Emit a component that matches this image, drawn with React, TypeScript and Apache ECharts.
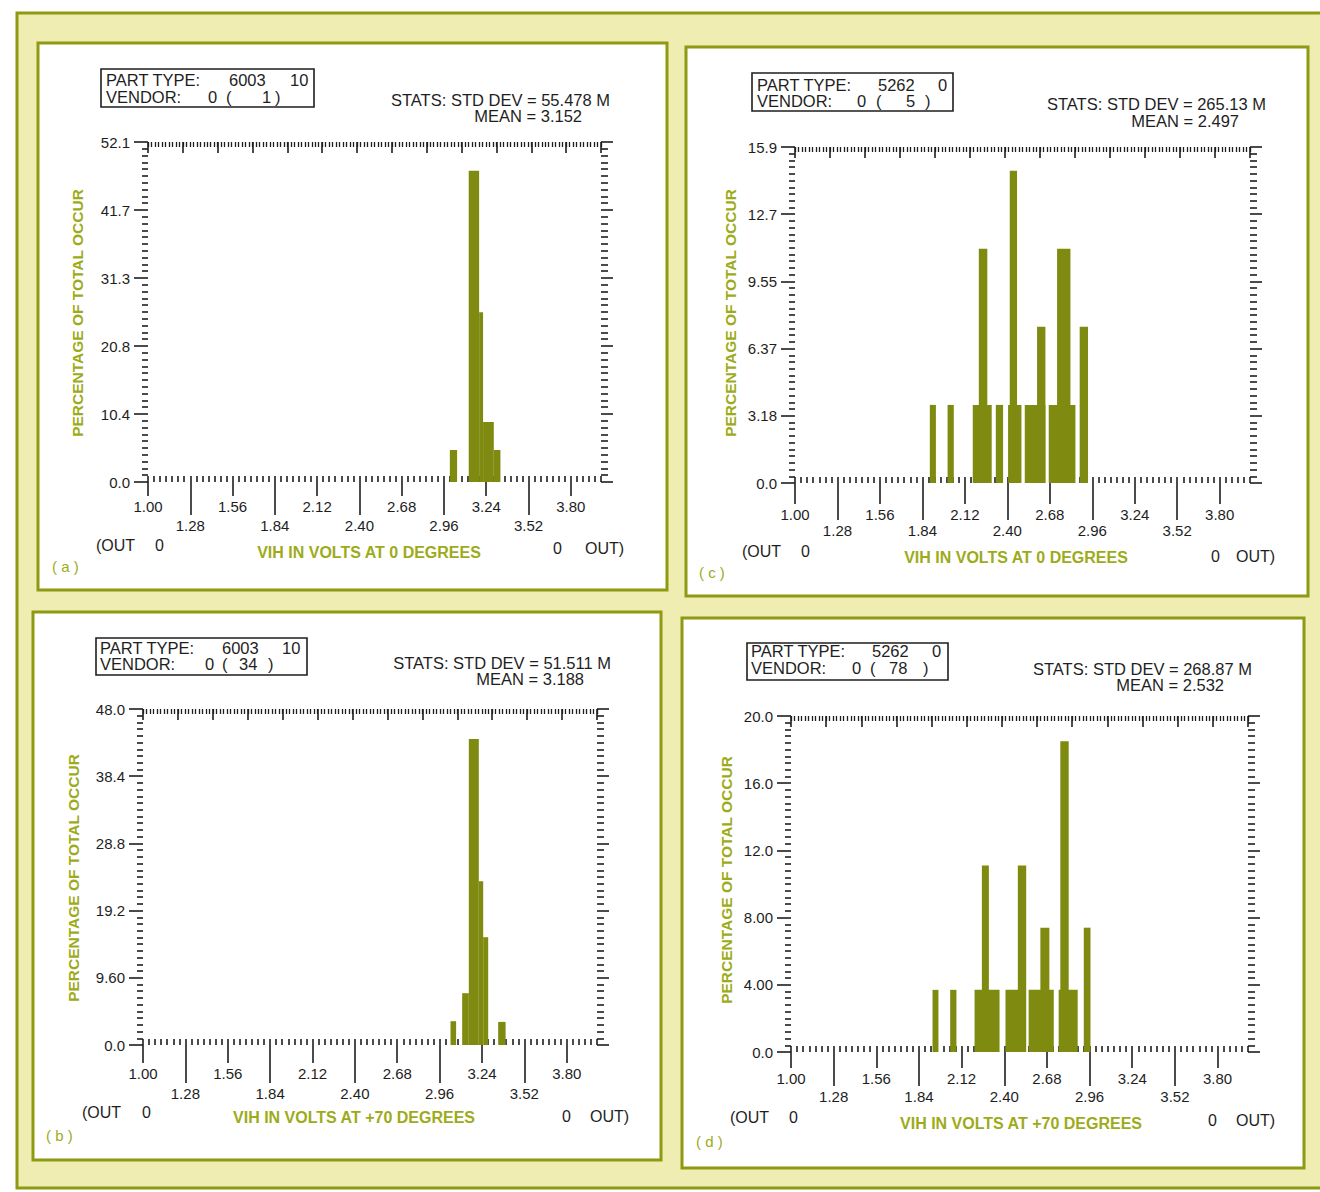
import React, { useEffect, useRef } from "react";
import * as echarts from "echarts";

// ---------- data ----------
const xTickLabels = ["1.00", "1.28", "1.56", "1.84", "2.12", "2.40", "2.68", "2.96", "3.24", "3.52", "3.80"];
const X_MIN = 1.0;
const X_MAX = 4.0;
const MINOR_PER_MAJOR = 7; // 0.04 V steps
const TOP_STEPS = 130;

// (a) 6003 / lot 1, 0 degrees
const aStart = [2.999, 3.124, 3.193, 3.219, 3.29];
const aEnd = [3.047, 3.193, 3.219, 3.29, 3.334];
const aPct = [4.9, 47.7, 26.0, 9.2, 4.9];
const aYLabels = ["0.0", "10.4", "20.8", "31.3", "41.7", "52.1"];

// (b) 6003 / lot 34, +70 degrees
const bStart = [3.032, 3.109, 3.153, 3.219, 3.248, 3.347];
const bEnd = [3.069, 3.153, 3.219, 3.248, 3.281, 3.396];
const bPct = [3.4, 7.4, 43.7, 23.4, 15.4, 3.3];
const bYLabels = ["0.0", "9.60", "19.2", "28.8", "38.4", "48.0"];

// (c) 5262 / lot 5, 0 degrees
const cStart = [1.889, 2.006, 2.172, 2.212, 2.324, 2.405, 2.416, 2.515, 2.596, 2.673, 2.728, 2.877];
const cEnd = [1.929, 2.047, 2.297, 2.268, 2.372, 2.493, 2.464, 2.651, 2.651, 2.849, 2.816, 2.932];
const cPct = [3.7, 3.7, 3.7, 11.1, 3.7, 3.7, 14.8, 3.7, 7.4, 3.7, 11.1, 7.4];
const cYLabels = ["0.0", "3.18", "6.37", "9.55", "12.7", "15.9"];

// (d) 5262 / lot 78, +70 degrees
const dStart = [1.929, 2.045, 2.205, 2.253, 2.408, 2.489, 2.56, 2.637, 2.757, 2.768, 2.922];
const dEnd = [1.968, 2.086, 2.369, 2.299, 2.533, 2.544, 2.725, 2.696, 2.882, 2.823, 2.966];
const dPct = [3.7, 3.7, 3.7, 11.1, 3.7, 11.1, 3.7, 7.4, 3.7, 18.5, 7.4];
const dYLabels = ["0.0", "4.00", "8.00", "12.0", "16.0", "20.0"];

const yMaxes = [52.1, 48.0, 15.92, 20.0];
const partTypes = ["6003", "6003", "5262", "5262"];
const partSubs = ["10", "10", "0", "0"];
const vendorLots = ["1", "34", "5", "78"];
const stdDevs = ["55.478 M", "51.511 M", "265.13 M", "268.87 M"];
const means = ["3.152", "3.188", "2.497", "2.532"];
const titles = ["VIH IN VOLTS AT 0 DEGREES", "VIH IN VOLTS AT +70 DEGREES", "VIH IN VOLTS AT 0 DEGREES", "VIH IN VOLTS AT +70 DEGREES"];
const letters = ["( a )", "( b )", "( c )", "( d )"];
const Y_LABEL = "PERCENTAGE OF TOTAL OCCUR";

// ---------- styles / layout ----------
const FONT = "'Liberation Sans', Arial, sans-serif";
const INK = "#1e1e1e";
const BAR = "#7f8a10";
const GREEN_TXT = "#9dab1a";
const OLIVE = "#8e9a12";
const YELLOW = "#efedb2";

type Layout = {
  frame: number[];
  grid: { left: number; top: number; width: number; height: number };
  mA: number;
  mB: number;
  box: number[];
  rows: number[];
  hx: number[];
  vx: number[];
  stats: number[];
  meanPos: number[];
  yLab: number[];
  outL: number[];
  outR: number[];
  title: number[];
  letter: number[];
};

const layouts: Layout[] = [
  {
    frame: [38, 43, 667, 590],
    grid: { left: 148, top: 142, width: 453, height: 340 },
    mA: 17, mB: 36,
    box: [101, 69, 314, 107], rows: [80, 97],
    hx: [106, 229, 290], vx: [106, 208, 226, 262, 275],
    stats: [610, 100], meanPos: [582, 116],
    yLab: [77, 313],
    outL: [96, 155, 545], outR: [553, 585, 548],
    title: [369, 552], letter: [52, 566],
  },
  {
    frame: [33, 612, 661, 1160],
    grid: { left: 143, top: 709, width: 454, height: 336 },
    mA: 21, mB: 41,
    box: [96, 638, 307, 675], rows: [648, 664],
    hx: [100, 222, 282], vx: [100, 205, 222, 239, 268],
    stats: [611, 663], meanPos: [584, 679],
    yLab: [73, 878],
    outL: [82, 142, 1112], outR: [562, 590, 1116],
    title: [354, 1117], letter: [46, 1135],
  },
  {
    frame: [686, 47, 1308, 596],
    grid: { left: 795, top: 147, width: 455, height: 336 },
    mA: 24, mB: 40,
    box: [752, 73, 953, 111], rows: [85, 101],
    hx: [757, 878, 938], vx: [757, 857, 876, 906, 925],
    stats: [1266, 104], meanPos: [1239, 121],
    yLab: [730, 313],
    outL: [742, 801, 551], outR: [1211, 1236, 556],
    title: [1016, 557], letter: [699, 572],
  },
  {
    frame: [682, 618, 1304, 1168],
    grid: { left: 791, top: 716, width: 457, height: 336 },
    mA: 19, mB: 37,
    box: [747, 643, 948, 680], rows: [651, 668],
    hx: [751, 872, 932], vx: [751, 852, 870, 889, 923],
    stats: [1252, 669], meanPos: [1224, 685],
    yLab: [726, 880],
    outL: [730, 789, 1117], outR: [1208, 1236, 1120],
    title: [1021, 1123], letter: [696, 1141],
  },
];

const panelData = [
  { start: aStart, end: aEnd, pct: aPct, yLabels: aYLabels },
  { start: bStart, end: bEnd, pct: bPct, yLabels: bYLabels },
  { start: cStart, end: cEnd, pct: cPct, yLabels: cYLabels },
  { start: dStart, end: dEnd, pct: dPct, yLabels: dYLabels },
];

function text(x: number, y: number, str: string, opts: any = {}) {
  return {
    type: "text",
    x,
    y,
    rotation: opts.rotation || 0,
    z: 5,
    style: {
      text: str,
      fill: opts.color || INK,
      font: `${opts.weight || "normal"} ${opts.size || 16.5}px ${FONT}`,
      align: opts.align || "left",
      verticalAlign: "middle",
    },
  };
}

function buildOption() {
  const lastMajorIdx = (xTickLabels.length - 1) * MINOR_PER_MAJOR;
  const nMinor = lastMajorIdx + Math.round((X_MAX - 3.8) / 0.04);
  const bottomCats: string[] = [];
  for (let k = 0; k <= nMinor; k++) {
    bottomCats.push(k % MINOR_PER_MAJOR === 0 && k <= lastMajorIdx ? xTickLabels[k / MINOR_PER_MAJOR] : "");
  }
  const topCats: string[] = [];
  for (let k = 0; k <= TOP_STEPS; k++) topCats.push("");

  const grid: any[] = [];
  const xAxis: any[] = [];
  const yAxis: any[] = [];
  const series: any[] = [];
  const graphic: any[] = [];

  graphic.push({
    type: "rect", z: -10,
    shape: { x: 17, y: 13, width: 1340, height: 1175 },
    style: { fill: YELLOW, stroke: OLIVE, lineWidth: 3 },
  });

  const tickLine = { color: INK, width: 1.6 };
  const axisLabelBase = { color: INK, fontSize: 15, fontFamily: FONT };

  layouts.forEach((L, i) => {
    const d = panelData[i];
    const [fx0, fy0, fx1, fy1] = L.frame;
    graphic.push({
      type: "rect", z: -9,
      shape: { x: fx0, y: fy0, width: fx1 - fx0, height: fy1 - fy0 },
      style: { fill: "#ffffff", stroke: OLIVE, lineWidth: 3 },
    });

    grid.push({ left: L.grid.left, top: L.grid.top, width: L.grid.width, height: L.grid.height, containLabel: false });

    const xBase = xAxis.length;
    xAxis.push({ gridIndex: i, type: "value", min: X_MIN, max: X_MAX, show: false });
    xAxis.push({
      gridIndex: i, type: "category", position: "bottom", data: bottomCats, boundaryGap: false,
      axisLine: { show: false },
      axisTick: { show: true, length: L.mA - 3, interval: (idx: number) => idx % (2 * MINOR_PER_MAJOR) === 0 && idx <= lastMajorIdx, lineStyle: tickLine },
      axisLabel: { ...axisLabelBase, margin: L.mA, interval: (idx: number) => idx % (2 * MINOR_PER_MAJOR) === 0 },
      splitLine: { show: false },
    });
    xAxis.push({
      gridIndex: i, type: "category", position: "bottom", data: bottomCats, boundaryGap: false,
      axisLine: { show: false },
      axisTick: { show: true, length: L.mB - 3, interval: (idx: number) => idx % (2 * MINOR_PER_MAJOR) === MINOR_PER_MAJOR && idx <= lastMajorIdx, lineStyle: tickLine },
      axisLabel: { ...axisLabelBase, margin: L.mB, interval: (idx: number) => idx % (2 * MINOR_PER_MAJOR) === MINOR_PER_MAJOR },
      splitLine: { show: false },
    });
    xAxis.push({
      gridIndex: i, type: "category", position: "bottom", data: bottomCats, boundaryGap: false,
      axisLine: { show: false },
      axisTick: { show: true, inside: true, length: 6, interval: 0, lineStyle: tickLine },
      axisLabel: { show: false },
      splitLine: { show: false },
    });
    xAxis.push({
      gridIndex: i, type: "category", position: "top", data: topCats, boundaryGap: false,
      axisLine: { show: false },
      axisTick: { show: true, inside: true, length: 5, interval: 0, lineStyle: { color: INK, width: 1.3 } },
      axisLabel: { show: false },
      splitLine: { show: false },
    });
    xAxis.push({
      gridIndex: i, type: "category", position: "top", data: topCats, boundaryGap: false,
      axisLine: { show: false },
      axisTick: { show: true, inside: true, length: 11, interval: (idx: number) => idx % 10 === 0, lineStyle: tickLine },
      axisLabel: { show: false },
      splitLine: { show: false },
    });

    const yMax = yMaxes[i];
    const step = yMax / 5;
    const yBase = yAxis.length;
    yAxis.push({
      gridIndex: i, type: "value", position: "left", min: 0, max: yMax, interval: step,
      axisLine: { show: false },
      axisTick: { show: true, length: 14, lineStyle: tickLine },
      minorTick: { show: true, splitNumber: 10, length: 6, lineStyle: tickLine },
      axisLabel: { ...axisLabelBase, margin: 18, formatter: (v: number) => d.yLabels[Math.round(v / step)] ?? "" },
      splitLine: { show: false },
      minorSplitLine: { show: false },
    });
    yAxis.push({
      gridIndex: i, type: "value", position: "right", min: 0, max: yMax, interval: step,
      axisLine: { show: false },
      axisTick: { show: true, length: 12, lineStyle: tickLine },
      minorTick: { show: true, splitNumber: 10, length: 7, lineStyle: tickLine },
      axisLabel: { show: false },
      splitLine: { show: false },
      minorSplitLine: { show: false },
    });

    series.push({
      type: "custom",
      xAxisIndex: xBase,
      yAxisIndex: yBase,
      clip: false,
      encode: { x: [0, 1], y: 2 },
      data: d.start.map((s, k) => [s, d.end[k], d.pct[k]]),
      renderItem: (_p: any, api: any) => {
        const p0 = api.coord([api.value(0), 0]);
        const p1 = api.coord([api.value(1), api.value(2)]);
        return {
          type: "rect",
          shape: { x: p0[0], y: p1[1], width: p1[0] - p0[0], height: p0[1] - p1[1] },
          style: { fill: BAR },
        };
      },
    });

    const [bx0, by0, bx1, by1] = L.box;
    graphic.push({
      type: "rect", z: 4,
      shape: { x: bx0, y: by0, width: bx1 - bx0, height: by1 - by0 },
      style: { fill: "#fff", stroke: INK, lineWidth: 1.6 },
    });
    graphic.push(text(L.hx[0], L.rows[0], "PART TYPE:"));
    graphic.push(text(L.hx[1], L.rows[0], partTypes[i]));
    graphic.push(text(L.hx[2], L.rows[0], partSubs[i]));
    graphic.push(text(L.vx[0], L.rows[1], "VENDOR:"));
    graphic.push(text(L.vx[1], L.rows[1], "0"));
    graphic.push(text(L.vx[2], L.rows[1], "("));
    graphic.push(text(L.vx[3], L.rows[1], vendorLots[i]));
    graphic.push(text(L.vx[4], L.rows[1], ")"));

    graphic.push(text(L.stats[0], L.stats[1], "STATS: STD DEV = " + stdDevs[i], { align: "right" }));
    graphic.push(text(L.meanPos[0], L.meanPos[1], "MEAN = " + means[i], { align: "right" }));

    graphic.push(text(L.yLab[0], L.yLab[1], Y_LABEL, { rotation: Math.PI / 2, align: "center", color: GREEN_TXT, size: 15.5, weight: "bold" }));

    graphic.push(text(L.outL[0], L.outL[2], "(OUT", { size: 16 }));
    graphic.push(text(L.outL[1], L.outL[2], "0", { size: 16 }));
    graphic.push(text(L.outR[0], L.outR[2], "0", { size: 16 }));
    graphic.push(text(L.outR[1], L.outR[2], "OUT)", { size: 16 }));

    graphic.push(text(L.title[0], L.title[1], titles[i], { align: "center", color: GREEN_TXT, size: 16, weight: "bold" }));
    graphic.push(text(L.letter[0], L.letter[1], letters[i], { color: GREEN_TXT, size: 15 }));
  });

  return {
    animation: false,
    backgroundColor: "#ffffff",
    grid,
    xAxis,
    yAxis,
    series,
    graphic: { elements: graphic },
  };
}

export default function App() {
  const ref = useRef<HTMLDivElement>(null);
  useEffect(() => {
    if (!ref.current) return;
    const chart = echarts.init(ref.current, null, { renderer: "svg" });
    chart.setOption(buildOption() as any);
    return () => chart.dispose();
  }, []);
  return (
    <div
      ref={ref}
      style={{ position: "absolute", left: 0, top: 0, width: 1320, height: 1192 }}
    />
  );
}
